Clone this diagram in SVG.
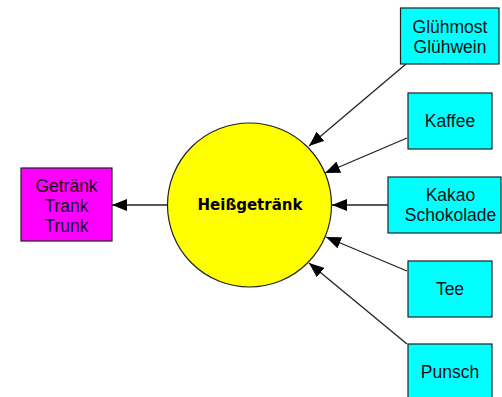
<svg xmlns="http://www.w3.org/2000/svg" width="502" height="397" viewBox="0 0 502 397">
<style>
.box{stroke:#222;stroke-width:1.2}
.cyan{fill:#00ffff}
.mag{fill:#ff00ff}
.lbl{font-family:"Liberation Sans",Arial,sans-serif;font-size:17.5px;fill:#111;text-anchor:middle}
.edge{stroke:#222;stroke-width:1.3;fill:none;marker-end:url(#arr)}
</style>
<defs>
<marker id="arr" markerUnits="userSpaceOnUse" markerWidth="16" markerHeight="12" refX="15" refY="6" orient="auto">
<path d="M0,0 L15,6 L0,12 Z" fill="#000"/>
</marker>
</defs>
<rect width="502" height="397" fill="#fff"/>
<g id="connectors">
<line class="edge" x1="406" y1="64" x2="309" y2="146"/>
<line class="edge" x1="407" y1="138" x2="325" y2="173"/>
<line class="edge" x1="388" y1="205" x2="332" y2="205"/>
<line class="edge" x1="407" y1="271" x2="326" y2="237"/>
<line class="edge" x1="407" y1="344" x2="309" y2="263"/>
<line class="edge" x1="167" y1="205" x2="112" y2="205"/>
</g>
<g id="heiss">
<circle cx="249.5" cy="205" r="82" fill="#ffff00" stroke="#222" stroke-width="1.2"/>
<text x="250" y="210" font-family="'DejaVu Sans',Verdana,sans-serif" font-size="15" font-weight="bold" text-anchor="middle" fill="#000">Heißgetränk</text>
</g>
<g id="getraenk">
<rect class="box mag" x="21" y="168" width="91" height="73"/>
<text class="lbl" x="66.5" y="191.5">Getränk</text>
<text class="lbl" x="66.5" y="211.5">Trank</text>
<text class="lbl" x="66.5" y="231.5">Trunk</text>
</g>
<g id="gluehmost">
<rect class="box cyan" x="400.5" y="8" width="98.5" height="56"/>
<text class="lbl" x="450" y="32.5">Glühmost</text>
<text class="lbl" x="450" y="52.5">Glühwein</text>
</g>
<g id="kaffee">
<rect class="box cyan" x="408" y="93" width="84" height="56"/>
<text class="lbl" x="450" y="127">Kaffee</text>
</g>
<g id="kakao">
<rect class="box cyan" x="388" y="177" width="113" height="56"/>
<text class="lbl" x="450.5" y="201">Kakao</text>
<text class="lbl" x="450.5" y="221">Schokolade</text>
</g>
<g id="tee">
<rect class="box cyan" x="408" y="261" width="84" height="56"/>
<text class="lbl" x="450" y="295">Tee</text>
</g>
<g id="punsch">
<rect class="box cyan" x="408" y="344" width="84" height="56"/>
<text class="lbl" x="450" y="378">Punsch</text>
</g>
</svg>
